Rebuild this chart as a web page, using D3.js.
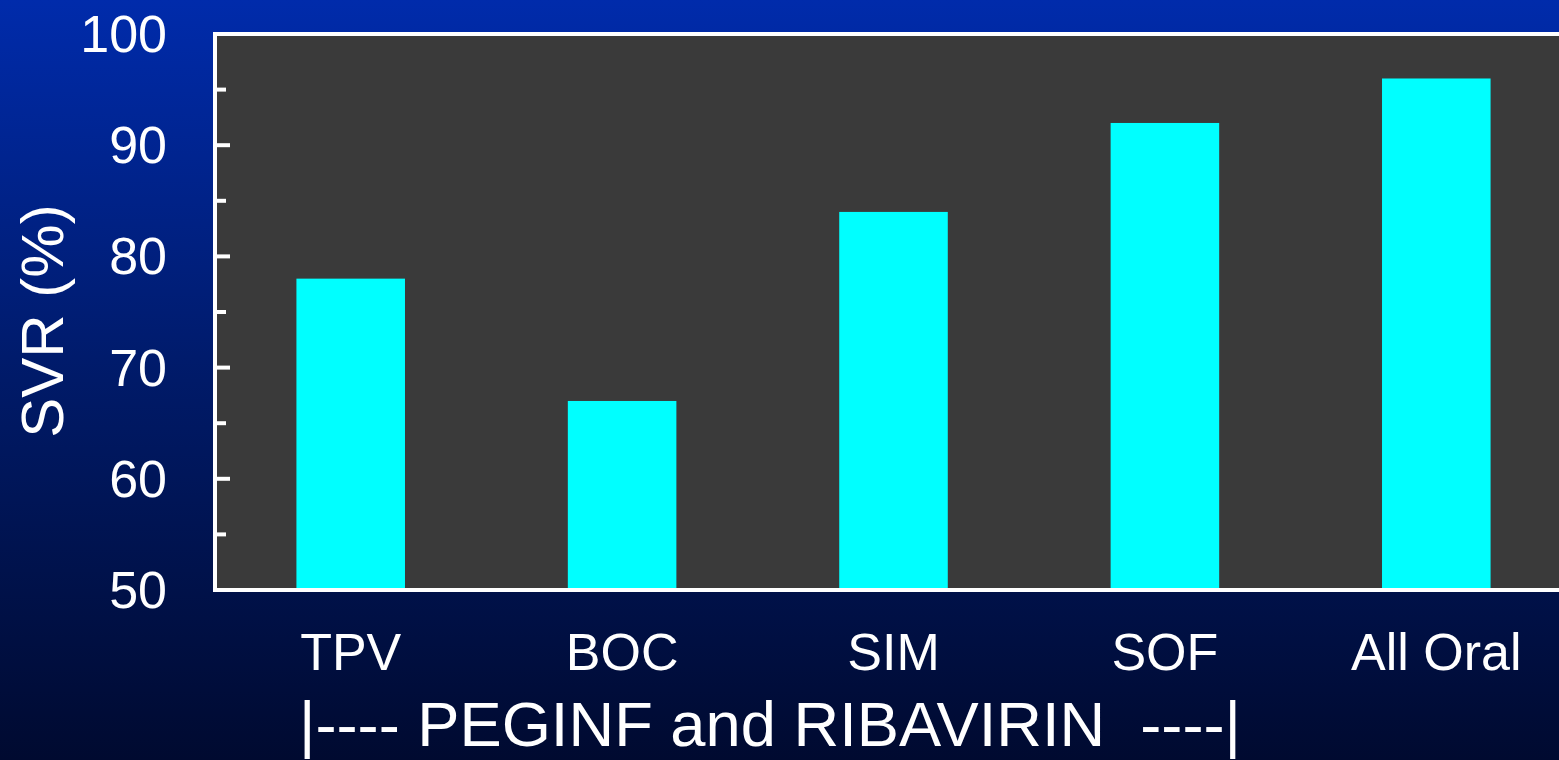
<!DOCTYPE html>
<html>
<head>
<meta charset="utf-8">
<script src="https://cdn.jsdelivr.net/npm/d3@7"></script>
<style>
  html, body { margin: 0; padding: 0; overflow: hidden; }
  body { width: 1559px; height: 760px; }
  text { font-family: "Liberation Sans", Arial, sans-serif; fill: #fff; }
</style>
</head>
<body>
<div id="chart"></div>
<script>
// data
const categories = ['TPV', 'BOC', 'SIM', 'SOF', 'All Oral']
const svrValues = [78, 67, 84, 92, 96]
const yTicks = [50, 60, 70, 80, 90, 100]
const groupLabel = '|---- PEGINF and RIBAVIRIN  ----|'

const W = 1559, H = 760
const plotLeft = 215, plotTop = 34, plotBottom = 590, plotRight = 1572

const svg = d3.select('#chart').append('svg')
  .attr('width', W)
  .attr('height', H)

const defs = svg.append('defs')
const grad = defs.append('linearGradient')
  .attr('id', 'bg')
  .attr('x1', 0).attr('y1', 0).attr('x2', 0).attr('y2', 1)
grad.append('stop').attr('offset', '0%').attr('stop-color', '#002bab')
grad.append('stop').attr('offset', '50%').attr('stop-color', '#001a68')
grad.append('stop').attr('offset', '100%').attr('stop-color', '#000a30')

svg.append('rect')
  .attr('width', W).attr('height', H)
  .attr('fill', 'url(#bg)')

const x = d3.scaleBand()
  .domain(categories)
  .range([plotLeft, plotRight])
  .paddingInner(0.6)
  .paddingOuter(0.3)

const y = d3.scaleLinear()
  .domain([50, 100])
  .range([plotBottom, plotTop])

// plot area
svg.append('rect')
  .attr('x', plotLeft).attr('y', plotTop)
  .attr('width', W - plotLeft + 10).attr('height', plotBottom - plotTop)
  .attr('fill', '#3a3a3a')
  .attr('stroke', '#fff')
  .attr('stroke-width', 4)

svg.selectAll('rect.bar')
  .data(svrValues)
  .enter().append('rect')
  .attr('class', 'bar')
  .attr('x', (d, i) => x(categories[i]))
  .attr('y', d => y(d))
  .attr('width', x.bandwidth())
  .attr('height', d => y(50) - y(d))
  .attr('fill', '#00ffff')

// bottom axis line on top of bars
svg.append('line')
  .attr('x1', plotLeft - 2).attr('x2', W)
  .attr('y1', plotBottom).attr('y2', plotBottom)
  .attr('stroke', '#fff').attr('stroke-width', 4)

// inward ticks: major every 10, minor every 5
const minor = d3.range(55, 100, 10)
svg.selectAll('line.major')
  .data(yTicks.filter(d => d > 50 && d < 100))
  .enter().append('line')
  .attr('x1', plotLeft).attr('x2', plotLeft + 15)
  .attr('y1', d => y(d)).attr('y2', d => y(d))
  .attr('stroke', '#fff').attr('stroke-width', 4)
svg.selectAll('line.minor')
  .data(minor)
  .enter().append('line')
  .attr('x1', plotLeft).attr('x2', plotLeft + 11)
  .attr('y1', d => y(d)).attr('y2', d => y(d))
  .attr('stroke', '#fff').attr('stroke-width', 4)

svg.selectAll('text.ytick')
  .data(yTicks)
  .enter().append('text')
  .attr('class', 'ytick')
  .attr('x', 167)
  .attr('y', d => y(d) + 18)
  .attr('text-anchor', 'end')
  .attr('font-size', 52)
  .text(d => d)

svg.selectAll('text.xtick')
  .data(categories)
  .enter().append('text')
  .attr('class', 'xtick')
  .attr('x', d => x(d) + x.bandwidth() / 2)
  .attr('y', 670)
  .attr('text-anchor', 'middle')
  .attr('font-size', 52)
  .text(d => d)

svg.append('text')
  .attr('transform', 'translate(63,321) rotate(-90)')
  .attr('text-anchor', 'middle')
  .attr('font-size', 60)
  .text('SVR (%)')

svg.append('text')
  .attr('x', 299)
  .attr('y', 746)
  .attr('font-size', 63)
  .attr('textLength', 942)
  .attr('lengthAdjust', 'spacingAndGlyphs')
  .style('white-space', 'pre')
  .text(groupLabel)
</script>
</body>
</html>
